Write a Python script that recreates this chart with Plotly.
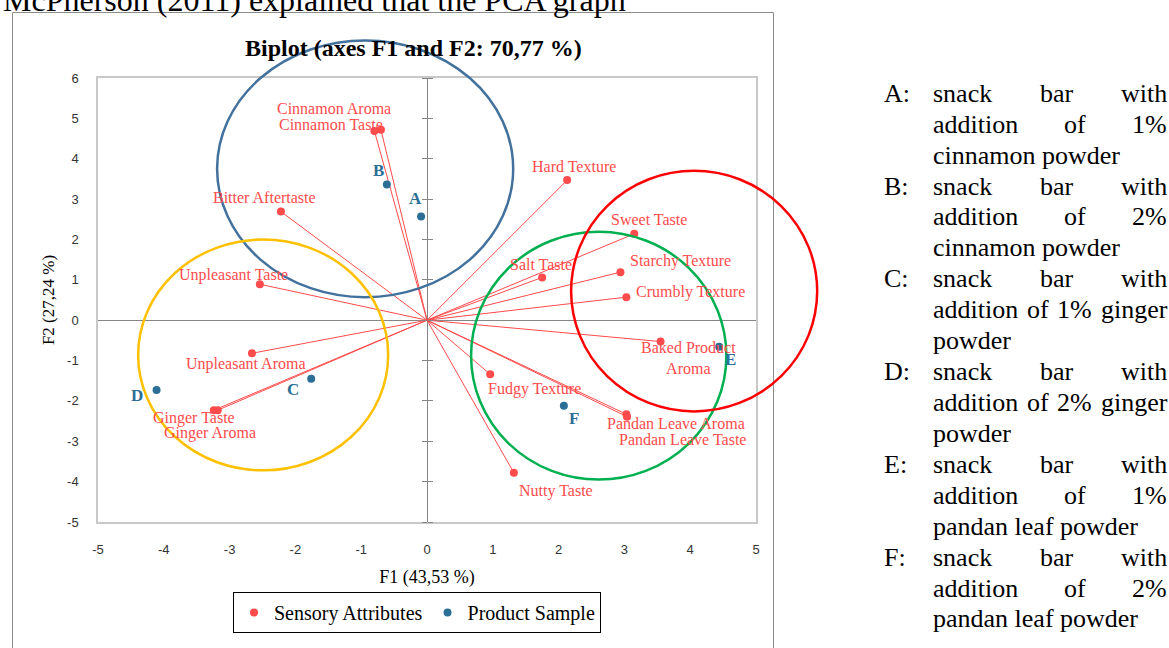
import plotly.graph_objects as go

# ---- PCA coordinates -------------------------------------------------------
attributes = [
    "Cinnamon Aroma", "Cinnamon Taste", "Bitter Aftertaste", "Unpleasant Taste",
    "Hard Texture", "Sweet Taste", "Salt Taste", "Starchy Texture",
    "Crumbly Texture", "Baked Product<br>Aroma", "Fudgy Texture",
    "Pandan Leave Aroma", "Pandan Leave Taste", "Nutty Taste",
    "Unpleasant Aroma", "Ginger Taste", "Ginger Aroma",
]
attr_f1 = [-0.70, -0.80, -2.22, -2.54, 2.13, 3.15, 1.75, 2.94, 3.03, 3.55,
           0.96, 3.03, 3.04, 1.32, -2.66, -3.24, -3.18]
attr_f2 = [4.72, 4.69, 2.69, 0.89, 3.47, 2.14, 1.06, 1.19, 0.57, -0.53,
           -1.34, -2.33, -2.39, -3.78, -0.82, -2.23, -2.23]

samples = ["A", "B", "C", "D", "E", "F"]
sample_f1 = [-0.09, -0.61, -1.76, -4.11, 4.44, 2.08]
sample_f2 = [2.57, 3.36, -1.45, -1.73, -0.66, -2.12]

x_ticks = [-5, -4, -3, -2, -1, 0, 1, 2, 3, 4, 5]
y_ticks = [-5, -4, -3, -2, -1, 0, 1, 2, 3, 4, 5, 6]

# ---- styling ---------------------------------------------------------------
RED = "#FF4B4B"
BLUE = "#2B6E96"
SERIF = "Liberation Serif, Times New Roman, serif"
SANS = "Liberation Sans, Arial, sans-serif"

# label offsets (px right, px down) from each point
attr_label_shift = {
    "Cinnamon Aroma": (-47, -21), "Cinnamon Taste": (-43, -6),
    "Bitter Aftertaste": (-16, -14), "Unpleasant Taste": (-26, -9),
    "Hard Texture": (7, -14), "Sweet Taste": (15, -14), "Salt Taste": (-1, -13),
    "Starchy Texture": (60, -11), "Crumbly Texture": (64, -5),
    "Baked Product<br>Aroma": (28, 16), "Fudgy Texture": (44, 15),
    "Pandan Leave Aroma": (50, 9), "Pandan Leave Taste": (55, 23),
    "Nutty Taste": (42, 18), "Unpleasant Aroma": (-6, 11),
    "Ginger Taste": (-20, 8), "Ginger Aroma": (-8, 23),
}
sample_label_shift = {
    "A": (-6, -18), "B": (-8, -14), "C": (-18, 11),
    "D": (-20, 5), "E": (11, 13), "F": (10, 13),
}

# group outlines: centre f1, centre f2, radius f1, radius f2, colour
group_outlines = [
    (-0.94, 3.75, 2.25, 3.18, "#41719C"),
    (-2.49, -0.86, 1.90, 2.86, "#FFC000"),
    (2.61, -0.88, 1.94, 3.07, "#00B050"),
    (4.06, 0.72, 1.87, 2.98, "#FF0000"),
]

X_RANGE = (-5, 5)
Y_RANGE = (-5, 6)

W, H = 1169, 648
ML, MR, MT, MB = 98, 413, 78, 126
PW, PH = W - ML - MR, H - MT - MB


def paper_x(px):
    return (px - ML) / PW


def paper_y(py):
    return (H - MB - py) / PH


def data_to_paper_x(v):
    return (v - X_RANGE[0]) / (X_RANGE[1] - X_RANGE[0])


def data_to_paper_y(v):
    return (v - Y_RANGE[0]) / (Y_RANGE[1] - Y_RANGE[0])


fig = go.Figure()

# vectors from origin to each sensory attribute
vx, vy = [], []
for a, b in zip(attr_f1, attr_f2):
    vx += [0, a, None]
    vy += [0, b, None]
fig.add_trace(go.Scatter(x=vx, y=vy, mode="lines",
                         line=dict(color=RED, width=1),
                         showlegend=False, hoverinfo="skip"))

fig.add_trace(go.Scatter(x=attr_f1, y=attr_f2, mode="markers",
                         name="Sensory Attributes",
                         marker=dict(color=RED, size=8)))
fig.add_trace(go.Scatter(x=sample_f1, y=sample_f2, mode="markers",
                         name="Product Sample",
                         marker=dict(color=BLUE, size=8)))

# invisible traces carrying the crossing ticks on the vertical zero axis
for ax_name in ("y2", "y3"):
    fig.add_trace(go.Scatter(x=[None], y=[None], yaxis=ax_name,
                             showlegend=False, hoverinfo="skip"))

annotations = []
for name, a, b in zip(attributes, attr_f1, attr_f2):
    dx, dy = attr_label_shift[name]
    annotations.append(dict(x=a, y=b, text=name, showarrow=False,
                            xshift=dx, yshift=-dy,
                            font=dict(family=SERIF, size=16, color=RED)))
for name, a, b in zip(samples, sample_f1, sample_f2):
    dx, dy = sample_label_shift[name]
    annotations.append(dict(x=a, y=b, text="<b>%s</b>" % name, showarrow=False,
                            xshift=dx, yshift=-dy,
                            font=dict(family=SERIF, size=17, color=BLUE)))

# chart title
annotations.append(dict(xref="paper", yref="paper", x=paper_x(413), y=paper_y(48),
                        text="<b>Biplot (axes F1 and F2: 70,77 %)</b>",
                        showarrow=False, xanchor="center", yanchor="middle",
                        font=dict(family=SERIF, size=24, color="black")))

# running text line above the chart
annotations.append(dict(xref="paper", yref="paper", x=paper_x(1), y=paper_y(0),
                        text="McPherson (2011) explained that the PCA graph",
                        showarrow=False, xanchor="left", yanchor="middle",
                        font=dict(family=SERIF, size=32, color="black")))

# sample key on the right, justified like the document column
TIMES_W = {" ": 250, "a": 444, "b": 500, "c": 444, "d": 500, "e": 444, "f": 333,
           "g": 500, "h": 500, "i": 278, "k": 500, "l": 278, "m": 778, "n": 500,
           "o": 500, "p": 500, "r": 333, "s": 389, "t": 278, "w": 722, "1": 500,
           "2": 500, "%": 833}
NOTE_SIZE = 26
COL_L, COL_R = 931, 1165


def text_width(s):
    return sum(TIMES_W.get(ch, 500) for ch in s) / 1000 * NOTE_SIZE


sample_notes = [
    ("A:", ["snack bar with", "addition of 1%", "cinnamon powder"]),
    ("B:", ["snack bar with", "addition of 2%", "cinnamon powder"]),
    ("C:", ["snack bar with", "addition of 1% ginger", "powder"]),
    ("D:", ["snack bar with", "addition of 2% ginger", "powder"]),
    ("E:", ["snack bar with", "addition of 1%", "pandan leaf powder"]),
    ("F:", ["snack bar with", "addition of 2%", "pandan leaf powder"]),
]
LINE0, LINE_STEP = 93.3, 30.92
note_font = dict(family=SERIF, size=NOTE_SIZE, color="black")
row = 0
for key, lines in sample_notes:
    annotations.append(dict(xref="paper", yref="paper", x=paper_x(882),
                            y=paper_y(LINE0 + row * LINE_STEP), text=key,
                            showarrow=False, xanchor="left", yanchor="middle",
                            font=note_font))
    for i, line in enumerate(lines):
        yy = paper_y(LINE0 + row * LINE_STEP)
        words = line.split(" ")
        last = i == len(lines) - 1
        if last or len(words) < 2:
            annotations.append(dict(xref="paper", yref="paper", x=paper_x(COL_L), y=yy,
                                    text=line, showarrow=False, xanchor="left",
                                    yanchor="middle", font=note_font))
        else:
            widths = [text_width(w) for w in words]
            gap = (COL_R - COL_L - sum(widths)) / (len(words) - 1)
            pos = COL_L
            for w, wd in zip(words, widths):
                annotations.append(dict(xref="paper", yref="paper", x=paper_x(pos), y=yy,
                                        text=w, showarrow=False, xanchor="left",
                                        yanchor="middle", font=note_font))
                pos += wd + gap
        row += 1

shapes = []
for cx, cy, rx, ry, col in group_outlines:
    shapes.append(dict(type="circle", xref="paper", yref="paper",
                       x0=data_to_paper_x(cx - rx), x1=data_to_paper_x(cx + rx),
                       y0=data_to_paper_y(cy - ry), y1=data_to_paper_y(cy + ry),
                       line=dict(color=col, width=2.5), layer="above"))
# outer chart frame
shapes.append(dict(type="rect", xref="paper", yref="paper",
                   x0=paper_x(12.5), x1=paper_x(773.5),
                   y0=paper_y(665), y1=paper_y(12.5),
                   line=dict(color="#8C8C8C", width=1), layer="below"))

axis_common = dict(showgrid=False, ticks="", showline=True, mirror=True,
                   linecolor="#C8C8C8", linewidth=1.5,
                   zeroline=True, zerolinecolor="#868686", zerolinewidth=1,
                   tickfont=dict(family=SANS, size=13, color="#333333"))

fig.update_layout(
    width=W, height=H,
    margin=dict(l=ML, r=MR, t=MT, b=MB, pad=0),
    paper_bgcolor="white", plot_bgcolor="white",
    xaxis=dict(range=list(X_RANGE), tickvals=x_ticks,
               ticktext=[str(v) for v in x_ticks], ticklabelstandoff=15,
               title=dict(text="F1 (43,53 %)", standoff=14,
                          font=dict(family=SERIF, size=18, color="black")),
               **axis_common),
    yaxis=dict(range=list(Y_RANGE), tickvals=y_ticks,
               ticktext=[str(v) for v in y_ticks], ticklabelstandoff=15,
               title=dict(text="F2 (27,24 %)", standoff=8,
                          font=dict(family=SERIF, size=17, color="black")),
               **axis_common),
    yaxis2=dict(overlaying="y", range=list(Y_RANGE), anchor="free", position=0.5,
                side="left", tickvals=y_ticks, ticks="outside", ticklen=5,
                tickcolor="#868686", showticklabels=False, showgrid=False,
                zeroline=False, showline=False),
    yaxis3=dict(overlaying="y", range=list(Y_RANGE), anchor="free", position=0.5,
                side="right", tickvals=y_ticks, ticks="outside", ticklen=5,
                tickcolor="#868686", showticklabels=False, showgrid=False,
                zeroline=False, showline=False),
    legend=dict(orientation="h", x=paper_x(417), xanchor="center",
                y=paper_y(592), yanchor="top",
                bgcolor="white", bordercolor="black", borderwidth=1,
                font=dict(family=SERIF, size=20, color="black"),
                itemwidth=30),
    showlegend=True,
    annotations=annotations,
    shapes=shapes,
)

fig.write_html("out.html")
